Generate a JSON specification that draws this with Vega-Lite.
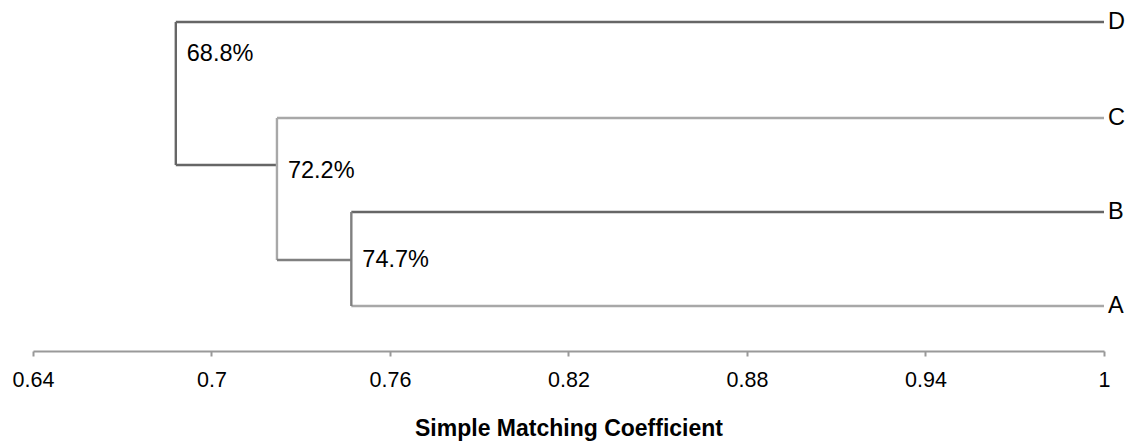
{
  "$schema": "https://vega.github.io/schema/vega-lite/v6.json",
  "autosize": "none",
  "width": 1071,
  "height": 351,
  "padding": {"left": 33, "top": 0, "right": 21, "bottom": 91},
  "background": "white",
  "config": {"view": {"stroke": null}, "font": "Liberation Sans"},
  "datasets": {
    "segments": [
      {"seg": "D", "x": 0.688, "x2": 1.0, "y": 329, "y2": 329, "shade": "dark"},
      {"seg": "C", "x": 0.722, "x2": 1.0, "y": 233, "y2": 233, "shade": "light"},
      {"seg": "B", "x": 0.747, "x2": 1.0, "y": 139, "y2": 139, "shade": "dark"},
      {"seg": "A", "x": 0.747, "x2": 1.0, "y": 45, "y2": 45, "shade": "light"},
      {"seg": "v1", "x": 0.688, "x2": 0.688, "y": 329, "y2": 186, "shade": "dark"},
      {"seg": "h1", "x": 0.688, "x2": 0.722, "y": 186, "y2": 186, "shade": "dark"},
      {"seg": "v2", "x": 0.722, "x2": 0.722, "y": 233, "y2": 91, "shade": "light"},
      {"seg": "h2", "x": 0.722, "x2": 0.747, "y": 91, "y2": 91, "shade": "mid"},
      {"seg": "v3", "x": 0.747, "x2": 0.747, "y": 139, "y2": 45, "shade": "mid"}
    ],
    "nodes": [
      {"x": 0.688, "y": 297, "label": "68.8%"},
      {"x": 0.722, "y": 180, "label": "72.2%"},
      {"x": 0.747, "y": 91, "label": "74.7%"}
    ],
    "leaves": [
      {"x": 1.0, "y": 329, "label": "D"},
      {"x": 1.0, "y": 233, "label": "C"},
      {"x": 1.0, "y": 139, "label": "B"},
      {"x": 1.0, "y": 45, "label": "A"}
    ]
  },
  "layer": [
    {
      "data": {"name": "segments"},
      "mark": {"type": "rule", "strokeWidth": 2.4},
      "encoding": {
        "x": {
          "field": "x", "type": "quantitative",
          "scale": {"domain": [0.64, 1], "nice": false, "zero": false},
          "axis": {
            "values": [0.64, 0.7, 0.76, 0.82, 0.88, 0.94, 1],
            "labelExpr": "toString(datum.value)",
            "grid": false,
            "domainColor": "#999999",
            "domainWidth": 2,
            "tickColor": "#999999",
            "tickWidth": 2,
            "tickSize": 5,
            "labelFontSize": 21.5,
            "labelColor": "#000000",
            "labelPadding": 13,
            "labelFlush": false,
            "title": "Simple Matching Coefficient",
            "titleFontSize": 23,
            "titleFontWeight": "bold",
            "titleColor": "#000000",
            "titlePadding": 27
          }
        },
        "x2": {"field": "x2"},
        "y": {"field": "y", "type": "quantitative", "scale": {"domain": [0, 351], "nice": false, "zero": false}, "axis": null},
        "y2": {"field": "y2"},
        "color": {
          "field": "shade", "type": "nominal",
          "scale": {"domain": ["dark", "mid", "light"], "range": ["#666666", "#808080", "#a8a8a8"]},
          "legend": null
        }
      }
    },
    {
      "data": {"name": "nodes"},
      "mark": {"type": "text", "align": "left", "baseline": "middle", "dx": 11, "fontSize": 23.5, "color": "#000000"},
      "encoding": {
        "x": {"field": "x", "type": "quantitative"},
        "y": {"field": "y", "type": "quantitative"},
        "text": {"field": "label"}
      }
    },
    {
      "data": {"name": "leaves"},
      "mark": {"type": "text", "align": "left", "baseline": "middle", "dx": 4, "fontSize": 23.5, "color": "#000000"},
      "encoding": {
        "x": {"field": "x", "type": "quantitative"},
        "y": {"field": "y", "type": "quantitative"},
        "text": {"field": "label"}
      }
    }
  ]
}
